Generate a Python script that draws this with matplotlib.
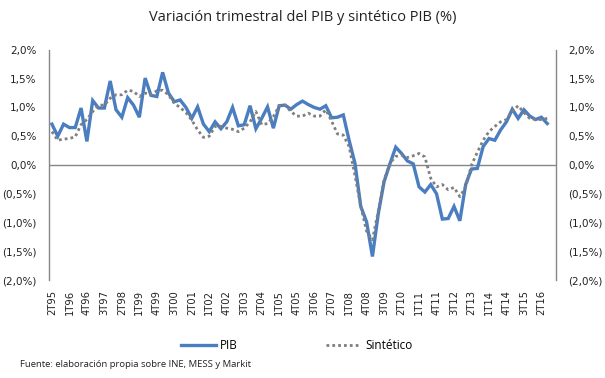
import matplotlib
matplotlib.use('Agg')
import matplotlib.pyplot as plt
from matplotlib.ticker import FuncFormatter

# Quarters 2T95 .. 4T16 (87 categories, data up to 3T16)
quarters = []
for year in range(1995, 2017):
    for q in range(1, 5):
        if year == 1995 and q == 1:
            continue
        quarters.append('%dT%02d' % (q, year % 100))

# Quarterly GDP growth (%)
pib = [0.71, 0.50, 0.71, 0.65, 0.65, 0.99, 0.41, 1.12, 0.99, 0.99,
       1.46, 0.96, 0.83, 1.17, 1.04, 0.83, 1.51, 1.21, 1.19, 1.61,
       1.25, 1.10, 1.13, 1.00, 0.81, 1.01, 0.71, 0.58, 0.75, 0.63,
       0.75, 1.00, 0.68, 0.70, 1.03, 0.63, 0.81, 1.01, 0.64, 1.03,
       1.04, 0.97, 1.05, 1.11, 1.05, 1.00, 0.97, 1.03, 0.82, 0.83,
       0.87, 0.43, 0.03, -0.72, -0.99, -1.59, -0.85, -0.29, 0.02, 0.31,
       0.20, 0.07, 0.02, -0.38, -0.47, -0.34, -0.50, -0.94, -0.93, -0.72,
       -0.97, -0.34, -0.07, -0.06, 0.32, 0.46, 0.43, 0.61, 0.75, 0.97,
       0.81, 0.96, 0.85, 0.79, 0.83, 0.72]

# Synthetic indicator (%)
sintetico = [0.58, 0.43, 0.45, 0.46, 0.49, 0.70, 0.79, 0.93, 1.04, 1.04,
             1.16, 1.22, 1.22, 1.30, 1.28, 1.19, 1.25, 1.22, 1.29, 1.30,
             1.22, 1.07, 1.00, 0.91, 0.78, 0.61, 0.48, 0.50, 0.67, 0.67,
             0.64, 0.62, 0.58, 0.64, 0.75, 0.93, 0.70, 0.72, 0.84, 1.03,
             1.04, 0.93, 0.85, 0.85, 0.90, 0.85, 0.85, 0.96, 0.76, 0.54,
             0.52, 0.32, -0.18, -0.72, -1.15, -1.30, -0.80, -0.26, 0.03, 0.15,
             0.17, 0.13, 0.16, 0.20, 0.14, -0.23, -0.38, -0.34, -0.43, -0.39,
             -0.55, -0.38, 0.00, 0.22, 0.43, 0.58, 0.67, 0.75, 0.79, 0.93,
             1.03, 0.91, 0.81, 0.79, 0.79, 0.81]

label_every = 3
grey = '#868686'

# Excel-like percent format: 2,0% and (0,5%) for negatives
def pct_fmt(v, pos):
    if v < -1e-9:
        return ('(%.1f%%)' % (-v)).replace('.', ',')
    return ('%.1f%%' % abs(v)).replace('.', ',')

fig = plt.figure(figsize=(6.05, 3.78), dpi=100)
ax = fig.add_axes([0.081, 0.259, 0.838, 0.609])

x = list(range(len(pib)))
ax.plot(x, pib, color='#4A7EC0', lw=2.4, label='PIB', solid_joinstyle='miter')
ax.plot(x, sintetico, color='#7F7F7F', lw=2.0, ls=(0, (1, 1.1)), label='Sintético')
ax.axhline(0, color=grey, lw=1, zorder=0)

ax.set_xlim(-0.5, len(quarters) - 0.5)
ax.set_ylim(-2.0, 2.0)
ax.set_yticks([-2.0, -1.5, -1.0, -0.5, 0.0, 0.5, 1.0, 1.5, 2.0])
ax.yaxis.set_major_formatter(FuncFormatter(pct_fmt))
ax.tick_params(axis='y', length=0, labelsize=7.5, pad=9, labelright=True)
for lab in ax.get_yticklabels():
    lab.set_color('#222222')

ticks = list(range(0, len(quarters), label_every))
ticks = [t for t in ticks if t < len(pib)]
ax.set_xticks(ticks)
ax.set_xticklabels([quarters[t] for t in ticks], rotation=90, fontsize=7.2, color='#222222')
ax.tick_params(axis='x', length=0, pad=7)

for s in ['top', 'bottom']:
    ax.spines[s].set_visible(False)
for s in ['left', 'right']:
    ax.spines[s].set_color(grey)
    ax.spines[s].set_linewidth(1)

fig.text(0.5, 0.955, 'Variación trimestral del PIB y sintético PIB (%)',
         ha='center', va='center', fontsize=10.5, family='Open Sans', color='#222222')

fig.legend(loc='center', bbox_to_anchor=(0.49, 0.085), ncol=2, frameon=False,
           handlelength=3.0, columnspacing=7.5, handletextpad=0.3,
           prop={'family': 'Open Sans', 'size': 8.5})

fig.text(0.033, 0.037, 'Fuente: elaboración propia sobre INE, MESS y Markit',
         ha='left', va='center', fontsize=6.8, family='Open Sans', color='#222222')

fig.savefig('out.png', dpi=100)
